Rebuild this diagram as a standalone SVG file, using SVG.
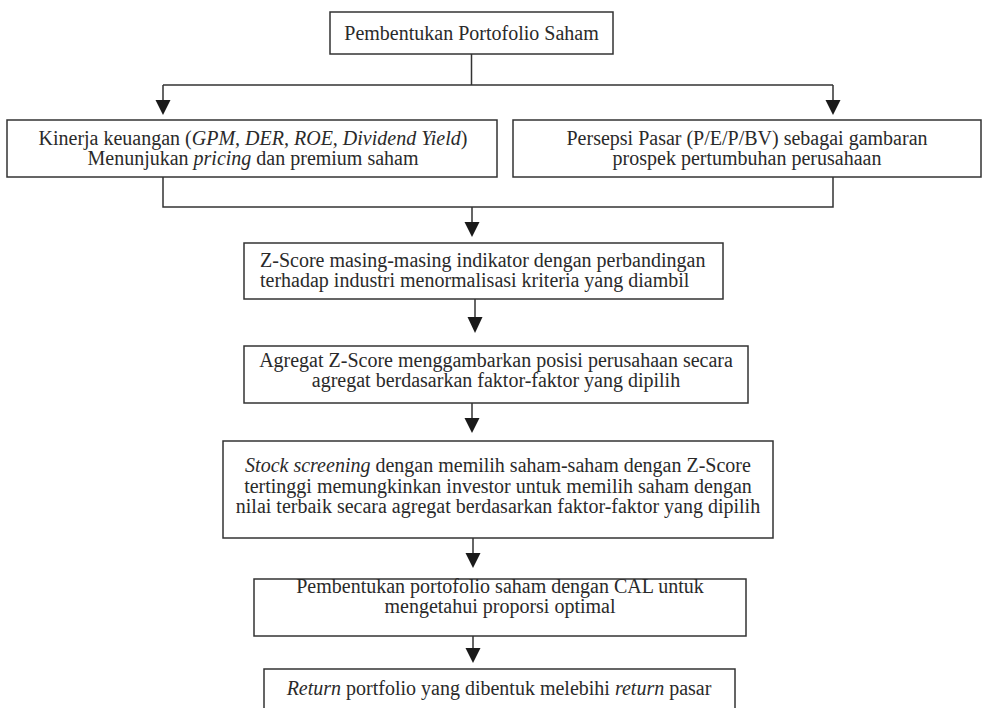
<svg xmlns="http://www.w3.org/2000/svg" width="986" height="708" viewBox="0 0 986 708">
<style>
  .box { fill: #fff; stroke: #333; stroke-width: 1.5; }
  .ln { fill: none; stroke: #333; stroke-width: 1.5; }
  .hd { fill: #1a1a1a; }
  text { font-family: "Liberation Serif", "DejaVu Serif", serif; font-size: 20px; fill: #2a2a2a; }
  .c { text-anchor: middle; }
  .i { font-style: italic; }
</style>
<rect width="986" height="708" fill="#fff"/>
<g id="connectors">
  <path class="ln" d="M471.5,54 V85 M163,85 H833 M163,85 V101 M833,85 V101"/>
  <polygon class="hd" points="155.5,100 170.5,100 163,115"/>
  <polygon class="hd" points="825.5,100 840.5,100 833,115"/>
  <path class="ln" d="M163,177 V207 H833 V177 M472,207 V223"/>
  <polygon class="hd" points="464.5,222 479.5,222 472,237"/>
  <path class="ln" d="M475,299 V318"/>
  <polygon class="hd" points="467.5,317 482.5,317 475,333"/>
  <path class="ln" d="M472,403 V419"/>
  <polygon class="hd" points="464.5,418 479.5,418 472,433"/>
  <path class="ln" d="M473,538 V554"/>
  <polygon class="hd" points="465.5,553 480.5,553 473,568"/>
  <path class="ln" d="M473,636 V649"/>
  <polygon class="hd" points="465.5,648 480.5,648 473,663"/>
</g>
<g id="n1">
  <rect class="box" x="330" y="12" width="283" height="42"/>
  <text class="c" x="471.5" y="40">Pembentukan Portofolio Saham</text>
</g>
<g id="n2">
  <rect class="box" x="7" y="120" width="490" height="57"/>
  <text class="c" x="253" y="145">Kinerja keuangan (<tspan class="i">GPM, DER, ROE, Dividend Yield</tspan>)</text>
  <text class="c" x="253" y="165">Menunjukan <tspan class="i">pricing</tspan> dan premium saham</text>
</g>
<g id="n3">
  <rect class="box" x="513" y="120" width="468" height="57"/>
  <text class="c" x="747" y="145">Persepsi Pasar (P/E/P/BV) sebagai gambaran</text>
  <text class="c" x="747" y="165">prospek pertumbuhan perusahaan</text>
</g>
<g id="n4">
  <rect class="box" x="244" y="243" width="479" height="56"/>
  <text x="260" y="267">Z-Score masing-masing indikator dengan perbandingan</text>
  <text x="260" y="287">terhadap industri menormalisasi kriteria yang diambil</text>
</g>
<g id="n5">
  <rect class="box" x="244" y="346" width="504" height="57"/>
  <text class="c" x="496" y="367">Agregat Z-Score menggambarkan posisi perusahaan secara</text>
  <text class="c" x="496" y="387">agregat berdasarkan faktor-faktor yang dipilih</text>
</g>
<g id="n6">
  <rect class="box" x="223" y="441" width="550" height="97"/>
  <text class="c" x="498" y="472"><tspan class="i">Stock screening</tspan> dengan memilih saham-saham dengan Z-Score</text>
  <text class="c" x="498" y="493">tertinggi memungkinkan investor untuk memilih saham dengan</text>
  <text class="c" x="498" y="513">nilai terbaik secara agregat berdasarkan faktor-faktor yang dipilih</text>
</g>
<g id="n7">
  <rect class="box" x="254" y="579" width="492" height="57"/>
  <text class="c" x="500" y="593">Pembentukan portofolio saham dengan CAL untuk</text>
  <text class="c" x="500" y="613">mengetahui proporsi optimal</text>
</g>
<g id="n8">
  <rect class="box" x="264" y="669" width="471" height="50"/>
  <text class="c" x="499" y="695"><tspan class="i">Return</tspan> portfolio yang dibentuk melebihi <tspan class="i">return</tspan> pasar</text>
</g>
</svg>
